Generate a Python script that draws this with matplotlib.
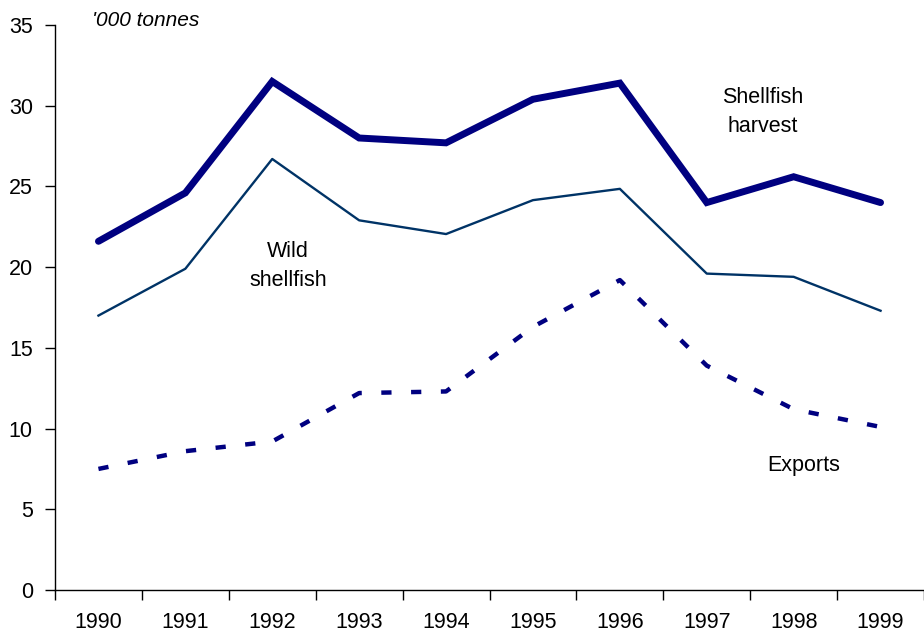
import matplotlib
matplotlib.use("Agg")
import matplotlib.pyplot as plt

plt.rcParams["font.family"] = ["Liberation Sans", "DejaVu Sans"]

years = ["1990", "1991", "1992", "1993", "1994", "1995", "1996", "1997", "1998", "1999"]
harvest = [21.6, 24.6, 31.5, 28.0, 27.7, 30.4, 31.4, 24.0, 25.6, 24.0]
wild = [17.0, 19.9, 26.7, 22.9, 22.05, 24.15, 24.85, 19.6, 19.4, 17.3]
exports = [7.5, 8.6, 9.2, 12.2, 12.3, 16.3, 19.2, 13.9, 11.2, 10.1]

C_NAVY = "#000080"
C_WILD = "#003366"

fig = plt.figure(figsize=(9.24, 6.35), dpi=100)
# axis runs a little past the right edge of the figure
ax = fig.add_axes([55 / 924, 45 / 635, 1 - 55 / 924, 565 / 635])

x = range(len(years))
ax.plot(x, harvest, color=C_NAVY, lw=5.0, solid_joinstyle="miter",
        solid_capstyle="round", zorder=3)
ax.plot(x, wild, color=C_WILD, lw=1.7, zorder=2)
ax.plot(x, exports, color=C_NAVY, lw=3.2, dashes=(2.3, 4.4),
        dash_capstyle="butt", zorder=2)

ax.set_xlim(-0.5, 9.5 - 10 / 88)
ax.set_ylim(0, 35)
ax.set_yticks(range(0, 36, 5))
ax.set_xticks(x)
ax.set_xticklabels(years)
ax.set_xticks([i + 0.5 for i in range(-1, 10)], minor=True)
ax.tick_params(axis="x", which="major", length=0, pad=16, labelsize=15.5)
ax.tick_params(axis="x", which="minor", length=7, width=1, color="black")
ax.tick_params(axis="y", length=7, width=1, pad=9, labelsize=15.5)

for side in ("top", "right"):
    ax.spines[side].set_visible(False)
for side in ("left", "bottom"):
    ax.spines[side].set_linewidth(1)

ax.annotate("'000 tonnes", xy=(92, 635 - 20), xycoords="figure pixels",
            fontsize=15, style="italic", ha="left", va="center")

lab = dict(fontsize=15.5, ha="center", va="center", linespacing=1.5)
ax.annotate("Shellfish\nharvest", xy=(763, 635 - 112), xycoords="figure pixels", **lab)
ax.annotate("Wild\nshellfish", xy=(288, 635 - 266), xycoords="figure pixels", **lab)
ax.annotate("Exports", xy=(804, 635 - 465), xycoords="figure pixels", **lab)

fig.savefig("out.png", dpi=100, facecolor="white")
